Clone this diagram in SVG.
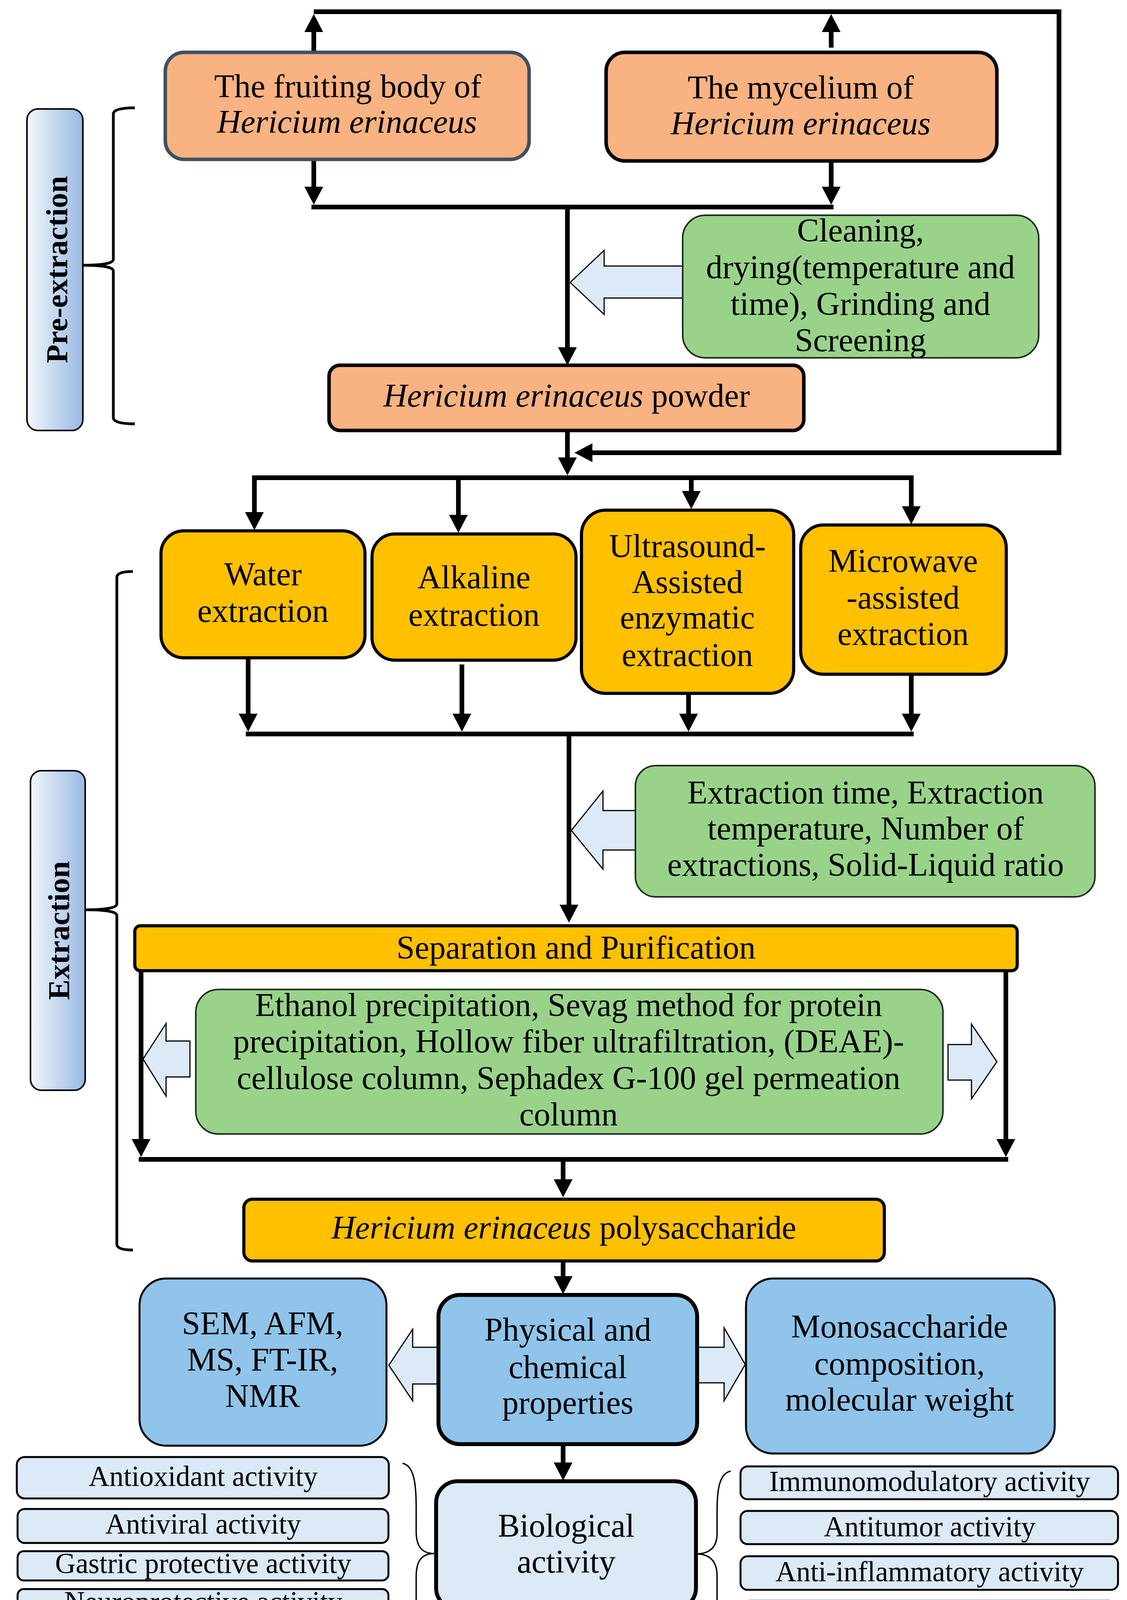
<svg xmlns="http://www.w3.org/2000/svg" width="2884" height="4691" viewBox="0 0 2884 4691">
<style>
.t{font-family:"Liberation Serif","Times New Roman",serif;font-size:84px;text-anchor:middle;fill:#000}
.s{font-size:73px}
.b{font-weight:bold;font-size:78px}
.i{font-style:italic}
.tox{fill:#1A5E8E}
.conn{stroke:#000;stroke-width:12;fill:none}
.blk{fill:#DCE9F6;stroke:#000;stroke-width:3}
.brace{stroke:#000;stroke-width:3.5;fill:none}
.bracket{stroke:#000;stroke-width:7;fill:none}
.peach{fill:#F9B282;stroke:#000;stroke-width:9}
.gold{fill:#FFC000;stroke:#000;stroke-width:8}
.green{fill:#99D38A;stroke:#1E2A1E;stroke-width:4}
.sky{fill:#90C4EA;stroke:#000;stroke-width:5}
.lb{fill:#DCE9F6;stroke:#000;stroke-width:5}
.lg{fill:#E0F0D9;stroke:#000;stroke-width:5}
</style>
<defs>
<marker id="ah" markerUnits="userSpaceOnUse" markerWidth="46" markerHeight="48" refX="26" refY="24" orient="auto"><path d="M0,0 L46,24 L0,48 z" fill="#000"/></marker>
<linearGradient id="lab" x1="0" y1="0" x2="1" y2="0"><stop offset="0" stop-color="#F3F7FC"/><stop offset="1" stop-color="#98B9E3"/></linearGradient>
</defs>
<rect width="2884" height="4691" fill="#fff"/>

<g id="connectors">
<path class="conn" d="M803,30 H2710 V1159 H1490" marker-end="url(#ah)"/>
<path class="conn" d="M803,134 V56" marker-end="url(#ah)"/>
<path class="conn" d="M2127,122 V56" marker-end="url(#ah)"/>
<path class="conn" d="M803,408 V504" marker-end="url(#ah)"/>
<path class="conn" d="M2127,415 V504" marker-end="url(#ah)"/>
<path class="conn" d="M797,530 H2133"/>
<path class="conn" d="M1452,530 V915" marker-end="url(#ah)"/>
<path class="conn" d="M1452,1102 V1197" marker-end="url(#ah)"/>
<path class="conn" d="M645,1223 H2338"/>
<path class="conn" d="M651,1223 V1337" marker-end="url(#ah)"/>
<path class="conn" d="M1173,1223 V1344" marker-end="url(#ah)"/>
<path class="conn" d="M1769,1223 V1283" marker-end="url(#ah)"/>
<path class="conn" d="M2332,1223 V1322" marker-end="url(#ah)"/>
<path class="conn" d="M635,1684 V1853" marker-end="url(#ah)"/>
<path class="conn" d="M1182,1701 V1853" marker-end="url(#ah)"/>
<path class="conn" d="M1762,1775 V1853" marker-end="url(#ah)"/>
<path class="conn" d="M2332,1726 V1853" marker-end="url(#ah)"/>
<path class="conn" d="M629,1879 H2338"/>
<path class="conn" d="M1456,1879 V2342" marker-end="url(#ah)"/>
<path class="conn" d="M361,2485 V2942" marker-end="url(#ah)"/>
<path class="conn" d="M2574,2485 V2942" marker-end="url(#ah)"/>
<path class="conn" d="M355,2968 H2580"/>
<path class="conn" d="M1441,2968 V3045" marker-end="url(#ah)"/>
<path class="conn" d="M1441,3228 V3293" marker-end="url(#ah)"/>
<path class="conn" d="M1441,3697 V3770" marker-end="url(#ah)"/>
<path class="conn" d="M1441,4120 V4177" marker-end="url(#ah)"/>
<path class="conn" d="M1441,4343 V4387" marker-end="url(#ah)"/>
<polygon class="blk" points="1459,723 1546,641 1546,681 1749,681 1749,763 1546,763 1546,805"/>
<polygon class="blk" points="1462,2126 1543,2025 1543,2075 1628,2075 1628,2176 1543,2176 1543,2225"/>
<polygon class="blk" points="366,2711 425,2620 425,2665 486,2665 486,2757 425,2757 425,2806"/>
<polygon class="blk" points="2551,2718 2486,2622 2486,2674 2426,2674 2426,2765 2486,2765 2486,2813"/>
<polygon class="blk" points="995,3495 1056,3403 1056,3449 1124,3449 1124,3543 1056,3543 1056,3586"/>
<polygon class="blk" points="1907,3493 1853,3399 1853,3449 1784,3449 1784,3540 1853,3540 1853,3586"/>
<path class="bracket" d="M345,276 Q290,276 290,292 V664 Q290,679 212,679 Q290,679 290,694 V1069 Q290,1085 345,1085"/>
<path class="bracket" d="M340,1463 Q299,1463 299,1478 V2314 Q299,2329 218,2329 Q299,2329 299,2344 V3185 Q299,3200 340,3200"/>
<path class="brace" d="M1030,3746 C1060,3752 1065,3800 1065,3860 V3920 C1065,3960 1080,3977 1112,3977 C1080,3977 1065,3995 1065,4035 V4110 C1065,4170 1062,4202 1030,4209"/>
<path class="brace" d="M1870,3766 C1840,3772 1835,3815 1835,3870 V3925 C1835,3962 1815,3978 1781,3978 C1815,3978 1835,3995 1835,4035 V4095 C1835,4155 1840,4182 1870,4188"/>
<path class="brace" d="M977,4373 C1010,4376 1020,4400 1020,4440 V4455 C1020,4480 1040,4493 1090,4493 C1040,4493 1020,4506 1020,4530 V4550 C1020,4595 1010,4610 977,4613"/>
<path class="brace" d="M1882,4421 C1850,4425 1840,4445 1840,4480 V4490 C1840,4512 1820,4525 1780,4525 C1820,4525 1840,4538 1840,4560 V4575 C1840,4610 1850,4627 1882,4630"/>
</g>

<g id="label-pre">
<rect x="69" y="279" width="143" height="823" rx="28" fill="url(#lab)" stroke="#000" stroke-width="4"/>
<text class="t b" x="172" y="690" transform="rotate(-90 172 690)">Pre-extraction</text>
</g>
<g id="label-ext">
<rect x="78" y="1973" width="140" height="818" rx="28" fill="url(#lab)" stroke="#000" stroke-width="4"/>
<text class="t b" x="177" y="2382" transform="rotate(-90 177 2382)">Extraction</text>
</g>

<g id="fruiting">
<rect x="423" y="134" width="931" height="274" rx="48" fill="#F9B282" stroke="#3E5060" stroke-width="9"/>
<text class="t" x="890" y="249">The fruiting body of</text>
<text class="t i" x="888" y="340">Hericium erinaceus</text>
</g>
<g id="mycelium">
<rect class="peach" x="1551" y="134" width="1000" height="278" rx="48"/>
<text class="t" x="2049" y="252">The mycelium of</text>
<text class="t i" x="2049" y="344">Hericium erinaceus</text>
</g>
<g id="cleaning">
<rect class="green" x="1747" y="551" width="911" height="365" rx="58"/>
<text class="t" x="2202" y="618">Cleaning,</text>
<text class="t" x="2202" y="712">drying(temperature and</text>
<text class="t" x="2202" y="806">time), Grinding and</text>
<text class="t" x="2202" y="899">Screening</text>
</g>
<g id="powder">
<rect class="peach" x="842" y="935" width="1215" height="167" rx="28"/>
<text class="t" x="1450" y="1041"><tspan class="i">Hericium erinaceus</tspan> powder</text>
</g>
<g id="water">
<rect class="gold" x="412" y="1359" width="522" height="325" rx="58"/>
<text class="t" x="673" y="1498">Water</text>
<text class="t" x="673" y="1592">extraction</text>
</g>
<g id="alkaline">
<rect class="gold" x="952" y="1367" width="522" height="323" rx="58"/>
<text class="t" x="1213" y="1506">Alkaline</text>
<text class="t" x="1213" y="1602">extraction</text>
</g>
<g id="ultrasound">
<rect class="gold" x="1488" y="1306" width="543" height="469" rx="62"/>
<text class="t" x="1759" y="1426">Ultrasound-</text>
<text class="t" x="1759" y="1518">Assisted</text>
<text class="t" x="1759" y="1609">enzymatic</text>
<text class="t" x="1759" y="1705">extraction</text>
</g>
<g id="microwave">
<rect class="gold" x="2049" y="1344" width="526" height="382" rx="58"/>
<text class="t" x="2311" y="1464">Microwave</text>
<text class="t" x="2311" y="1558">-assisted</text>
<text class="t" x="2311" y="1651">extraction</text>
</g>
<g id="params">
<rect class="green" x="1626" y="1960" width="1176" height="336" rx="52"/>
<text class="t" x="2215" y="2057">Extraction time, Extraction</text>
<text class="t" x="2215" y="2149">temperature, Number of</text>
<text class="t" x="2215" y="2242">extractions, Solid-Liquid ratio</text>
</g>
<g id="separation">
<rect class="gold" x="345" y="2370" width="2258" height="115" rx="14"/>
<text class="t" x="1474" y="2454">Separation and Purification</text>
</g>
<g id="methods">
<rect class="green" x="501" y="2533" width="1912" height="370" rx="58"/>
<text class="t" x="1455" y="2601">Ethanol precipitation, Sevag method for protein</text>
<text class="t" x="1455" y="2694">precipitation, Hollow fiber ultrafiltration, (DEAE)-</text>
<text class="t" x="1455" y="2788">cellulose column, Sephadex G-100 gel permeation</text>
<text class="t" x="1455" y="2881">column</text>
</g>
<g id="polysaccharide">
<rect class="gold" x="624" y="3070" width="1639" height="158" rx="22"/>
<text class="t" x="1443" y="3171"><tspan class="i">Hericium erinaceus</tspan> polysaccharide</text>
</g>
<g id="sem">
<rect class="sky" x="357" y="3273" width="632" height="428" rx="68"/>
<text class="t" x="672" y="3416">SEM, AFM,</text>
<text class="t" x="672" y="3509">MS, FT-IR,</text>
<text class="t" x="672" y="3602">NMR</text>
</g>
<g id="physical">
<rect x="1122" y="3315" width="662" height="382" rx="55" fill="#90C4EA" stroke="#000" stroke-width="10"/>
<text class="t" x="1453" y="3432">Physical and</text>
<text class="t" x="1453" y="3528">chemical</text>
<text class="t" x="1453" y="3619">properties</text>
</g>
<g id="mono">
<rect class="sky" x="1909" y="3273" width="790" height="448" rx="70"/>
<text class="t" x="2302" y="3424">Monosaccharide</text>
<text class="t" x="2302" y="3519">composition,</text>
<text class="t" x="2302" y="3611">molecular weight</text>
</g>
<g id="biological">
<rect x="1116" y="3792" width="665" height="328" rx="55" fill="#DCE9F6" stroke="#000" stroke-width="10"/>
<text class="t" x="1449" y="3934">Biological</text>
<text class="t" x="1449" y="4026">activity</text>
</g>
<g id="toxicity">
<rect x="1116" y="4198" width="662" height="145" rx="25" fill="#FFF2CC" stroke="#000" stroke-width="9"/>
<text class="t tox" x="1447" y="4294">Toxicity</text>
</g>
<g id="application">
<rect x="1065" y="4409" width="734" height="233" rx="50" fill="#E0F0D9" stroke="#000" stroke-width="10"/>
<text class="t" x="1432" y="4547">Application</text>
</g>
<g id="bio-left">
<g id="antioxidant"><rect class="lb" x="43" y="3730" width="952" height="106" rx="20"/><text class="t s" x="520" y="3804">Antioxidant activity</text></g>
<g id="antiviral"><rect class="lb" x="45" y="3863" width="949" height="87" rx="18"/><text class="t s" x="520" y="3926">Antiviral activity</text></g>
<g id="gastric"><rect class="lb" x="45" y="3971" width="949" height="75" rx="16"/><text class="t s" x="520" y="4027">Gastric protective activity</text></g>
<g id="neuro"><rect class="lb" x="45" y="4068" width="949" height="76" rx="16"/><text class="t s" x="520" y="4125">Neuroprotective activity</text></g>
<g id="other-effects"><rect class="lb" x="45" y="4171" width="949" height="76" rx="16"/><text class="t s" x="520" y="4228">Other effects</text></g>
</g>
<g id="bio-right">
<g id="immuno"><rect class="lb" x="1895" y="3754" width="966" height="84" rx="18"/><text class="t s" x="2379" y="3817">Immunomodulatory activity</text></g>
<g id="antitumor"><rect class="lb" x="1895" y="3868" width="966" height="85" rx="18"/><text class="t s" x="2379" y="3933">Antitumor activity</text></g>
<g id="antiinflam"><rect class="lb" x="1895" y="3984" width="966" height="86" rx="18"/><text class="t s" x="2379" y="4048">Anti-inflammatory activity</text></g>
<g id="intestinal"><rect class="lb" x="1895" y="4098" width="966" height="158" rx="24"/><text class="t s" x="2379" y="4158">Intestinal health</text><text class="t s" x="2379" y="4240">improvement activity</text></g>
</g>
<g id="app-left">
<g id="food"><rect class="lg" x="43" y="4319" width="923" height="103" rx="20"/><text class="t s" x="506" y="4392">The food industry</text></g>
<g id="health"><rect class="lg" x="45" y="4449" width="921" height="95" rx="20"/><text class="t s" x="506" y="4519">The health industry</text></g>
<g id="other-app"><rect class="lg" x="45" y="4571" width="919" height="95" rx="20"/><text class="t s" x="506" y="4639">Other applications</text></g>
</g>
<g id="app-right">
<g id="drug"><rect class="lg" x="1909" y="4375" width="908" height="110" rx="22"/><text class="t s" x="2362" y="4452">Drug delivery system</text></g>
<g id="biomaterials"><rect class="lg" x="1909" y="4504" width="908" height="139" rx="24"/><text class="t s" x="2362" y="4594">The field of biomaterials</text></g>
</g>
</svg>
